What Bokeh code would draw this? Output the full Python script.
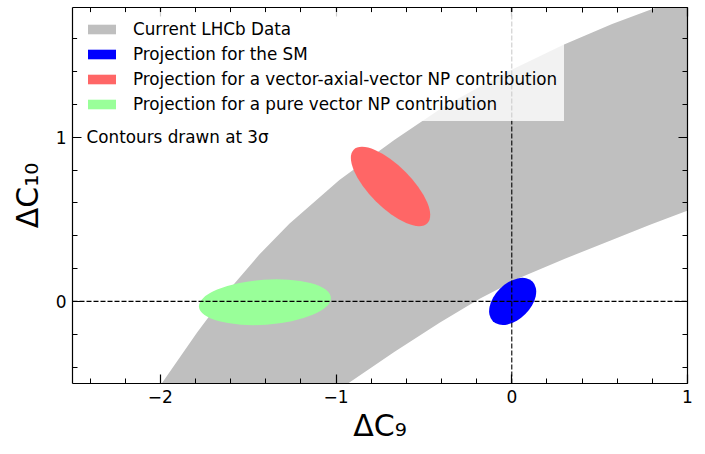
import numpy as np
from bokeh.plotting import figure
from bokeh.models import (Range1d, LinearAxis, SingleIntervalTicker, CustomJSTickFormatter,
                          Legend, LegendItem, Label, Span)
from bokeh.embed import file_html
from bokeh.resources import INLINE

# ---- data ----
# Current LHCb data band: upper-left edge and lower-right edge (Delta C9, Delta C10)
band_upper_x = [-2.07, -1.997, -1.791, -1.609, -1.438, -1.266, -0.981, -0.667, -0.382, -0.040,
                0.291, 0.571, 0.845, 1.10]
band_upper_y = [-0.61, -0.507, -0.190, 0.071, 0.284, 0.473, 0.740, 0.984, 1.190, 1.391,
                1.561, 1.689, 1.799, 1.92]
band_lower_x = [1.10, 0.998, 0.787, 0.559, 0.302, 0.046, -0.183, -0.411, -0.667, -0.924, -1.05]
band_lower_y = [0.59, 0.552, 0.467, 0.369, 0.260, 0.144, 0.016, -0.130, -0.306, -0.494, -0.58]

# Projected 3-sigma contours: centre, full width (C9 units), full height (C10 units), tilt (deg)
ell_cx = [0.005, -0.69, -1.405]
ell_cy = [0.0, 0.70, -0.005]
ell_w = [0.319, 0.593, 0.753]
ell_h = [0.219, 0.255, 0.274]
ell_angle = [45, -45, 4]
ell_colors = ["#0000ff", "#ff6666", "#99ff99"]

legend_labels = ["Current LHCb Data", "Projection for the SM",
                 "Projection for a vector-axial-vector NP contribution",
                 "Projection for a pure vector NP contribution"]
legend_colors = ["#bfbfbf", "#0000ff", "#ff6666", "#99ff99"]

x_start, x_end = -2.5, 1.0
y_start, y_end = -0.5, 1.79
note_text = "Contours drawn at 3\u03c3"
note_x, note_y = -2.42, 1.0

FONT = "DejaVu Sans"

p = figure(width=705, height=454, x_range=Range1d(x_start, x_end), y_range=Range1d(y_start, y_end),
           output_backend="svg", toolbar_location=None,
           min_border_left=72, min_border_right=18, min_border_top=7, min_border_bottom=71)
p.grid.visible = False
p.outline_line_color = None
p.background_fill_color = "white"
p.border_fill_color = "white"

# band
p.patch(band_upper_x + band_lower_x, band_upper_y + band_lower_y,
        fill_color=legend_colors[0], line_color=None)

# contours
p.ellipse(x=ell_cx, y=ell_cy, width=ell_w, height=ell_h, angle=ell_angle, angle_units="deg",
          fill_color=ell_colors, line_color=None)

# reference lines
p.add_layout(Span(location=0, dimension="width", line_color="black", line_dash="5 2", line_width=1.1))
p.add_layout(Span(location=0, dimension="height", line_color="black", line_dash="5 2", line_width=1.1))

# legend proxies (one NaN row each so the legend swatch is drawn, nothing on the plot)
items = []
for lab, col in zip(legend_labels, legend_colors):
    r = p.quad(left=[np.nan], right=[np.nan], top=[np.nan], bottom=[np.nan],
               fill_color=col, line_color=None)
    items.append(LegendItem(label=lab, renderers=[r]))
legend = Legend(items=items, location="top_left", margin=5, padding=7, spacing=5,
                glyph_width=35, glyph_height=12, label_height=17, label_standoff=14,
                label_text_font=FONT, label_text_font_size="16.8px", label_text_color="black",
                background_fill_color="white", background_fill_alpha=0.8,
                border_line_color="white", border_line_alpha=0.0)
p.add_layout(legend)

p.add_layout(Label(x=note_x, y=note_y, text=note_text, text_font=FONT, text_font_size="16.8px",
                   text_color="black", text_baseline="alphabetic"))

# axes
fmt = CustomJSTickFormatter(code="return tick < 0 ? '\u2212' + Math.abs(tick).toFixed(0) : tick.toFixed(0);")
blank = CustomJSTickFormatter(code="return '';")
p.add_layout(LinearAxis(), "above")
p.add_layout(LinearAxis(), "right")
for ax in p.xaxis:
    ax.ticker = SingleIntervalTicker(interval=1, num_minor_ticks=5)
for ax in p.yaxis:
    ax.ticker = SingleIntervalTicker(interval=1, num_minor_ticks=5)
for ax in p.axis:
    ax.formatter = fmt
    ax.axis_line_color = "black"
    ax.axis_line_width = 1.2
    ax.major_tick_in = 9
    ax.major_tick_out = 0
    ax.minor_tick_in = 5
    ax.minor_tick_out = 0
    ax.major_tick_line_color = "black"
    ax.major_tick_line_width = 1.2
    ax.minor_tick_line_color = "black"
    ax.minor_tick_line_width = 1
    ax.major_label_text_font = FONT
    ax.major_label_text_font_size = "17px"
    ax.major_label_text_color = "black"
    ax.major_label_standoff = 6
    ax.axis_label_text_font = FONT
    ax.axis_label_text_font_size = "30px"
    ax.axis_label_text_font_style = "normal"
    ax.axis_label_text_color = "black"
for ax in (p.above[0], p.right[0]):
    ax.formatter = blank
    ax.major_label_text_font_size = "0px"
    ax.major_label_standoff = 0
p.below[0].axis_label = "\u0394C\u2089"
p.below[0].axis_label_standoff = 2
p.left[0].axis_label = "\u0394C\u2081\u2080"
p.left[0].axis_label_standoff = 8

open("out.html", "w").write(file_html(p, INLINE))
